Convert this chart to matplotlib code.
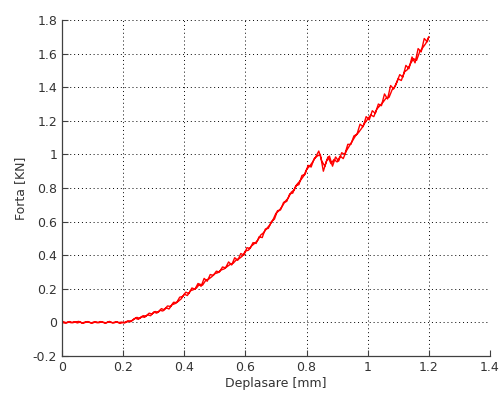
import numpy as np
import matplotlib
matplotlib.use("Agg")
import matplotlib.pyplot as plt

# main loading trace (step 0.01 mm)
x_main = np.round(np.arange(0, 1.2001, 0.01), 3)
y_main = [
    0.000, -0.004, 0.003, -0.002, 0.004, -0.003, 0.002, -0.005, 0.003, 0.000,
    -0.004, 0.004, -0.002, 0.003, -0.004, 0.002, 0.000, -0.003, 0.004, -0.006, 0.000,
    0.002, 0.006, 0.012, 0.025, 0.018, 0.035, 0.030, 0.045, 0.040, 0.062,
    0.055, 0.072, 0.068, 0.088, 0.080, 0.105, 0.112, 0.125, 0.140, 0.168,
    0.160, 0.188, 0.195, 0.205, 0.228, 0.222, 0.250, 0.258, 0.272, 0.290,
    0.296, 0.312, 0.318, 0.332, 0.345, 0.352, 0.372, 0.380, 0.395, 0.425,
    0.430, 0.455, 0.470, 0.488, 0.520, 0.535, 0.560, 0.580, 0.610, 0.650,
    0.665, 0.690, 0.720, 0.740, 0.775, 0.790, 0.825, 0.845, 0.870, 0.910,
    0.930, 0.955, 0.985, 1.020, 0.960, 0.930, 0.985, 0.945, 0.970, 0.955,
    0.990, 0.975, 1.020, 1.050, 1.080, 1.110, 1.130, 1.155, 1.185, 1.210,
    1.235, 1.225, 1.270, 1.290, 1.310, 1.335, 1.340, 1.385, 1.405, 1.450,
    1.440, 1.490, 1.505, 1.540, 1.570, 1.560, 1.610, 1.635, 1.660, 1.700,
]

# second (noisy) pass over the upper part
x_back = np.round(np.arange(0.605, 1.2, 0.01), 3)
y_back = [
    0.445, 0.440, 0.475, 0.470, 0.510, 0.505, 0.555, 0.560, 0.600, 0.615,
    0.665, 0.670, 0.715, 0.720, 0.765, 0.770, 0.815, 0.820, 0.875, 0.880,
    0.935, 0.925, 0.975, 0.990, 1.000, 0.900, 0.960, 0.990, 0.930, 0.985,
    0.960, 1.010, 1.000, 1.060, 1.060, 1.110, 1.120, 1.180, 1.165, 1.225,
    1.205, 1.260, 1.245, 1.300, 1.290, 1.360, 1.330, 1.410, 1.390, 1.430,
    1.475, 1.460, 1.530, 1.510, 1.580, 1.545, 1.630, 1.610, 1.690, 1.670,
]

# third pass, lower part of the curve (small spikes)
x_low = np.round(np.arange(0.005, 0.6, 0.01), 3)
y_low = [
    0.004, -0.003, 0.005, -0.002, 0.003, 0.006, -0.004, 0.002, 0.005, -0.003,
    0.003, -0.002, 0.005, 0.001, -0.003, 0.006, -0.002, 0.003, -0.001, 0.002,
    -0.004, 0.010, 0.004, 0.020, 0.030, 0.024, 0.040, 0.038, 0.055, 0.050,
    0.065, 0.060, 0.082, 0.075, 0.098, 0.095, 0.120, 0.118, 0.150, 0.155,
    0.180, 0.172, 0.205, 0.198, 0.232, 0.215, 0.262, 0.245, 0.285, 0.280,
    0.305, 0.300, 0.330, 0.325, 0.360, 0.342, 0.385, 0.370, 0.410, 0.400,
]

x_all = np.concatenate([x_main, x_back[::-1], x_low[::-1]])
y_all = np.concatenate([y_main, y_back[::-1], y_low[::-1]])

fig = plt.figure(figsize=(5.02, 3.94), dpi=100)
ax = fig.add_axes([0.1235, 0.0964, 0.8525, 0.8528])

ax.plot(x_all, y_all, color="#ff0000", linewidth=1.0)

ax.set_xlim(0, 1.4)
ax.set_ylim(-0.2, 1.8)
ax.set_xticks(np.arange(0, 1.41, 0.2))
ax.set_yticks(np.arange(-0.2, 1.81, 0.2))
ax.set_xticklabels(["0", "0.2", "0.4", "0.6", "0.8", "1", "1.2", "1.4"])
ax.set_yticklabels(["-0.2", "0", "0.2", "0.4", "0.6", "0.8", "1", "1.2", "1.4", "1.6", "1.8"])

ax.grid(True, linestyle=(0, (1, 3)), color="black", linewidth=0.7)
ax.spines["top"].set_visible(False)
ax.spines["right"].set_visible(False)
for s in ["left", "bottom"]:
    ax.spines[s].set_color("#404040")
    ax.spines[s].set_linewidth(0.9)
ax.tick_params(direction="in", length=4, width=0.8, colors="#404040",
               labelcolor="#333333", labelsize=9)

ax.set_xlabel("Deplasare [mm]", fontsize=9, color="#333333", labelpad=2)
ax.set_ylabel("Forta [KN]", fontsize=9, color="#333333", labelpad=4)

fig.savefig("out.png", dpi=100)
